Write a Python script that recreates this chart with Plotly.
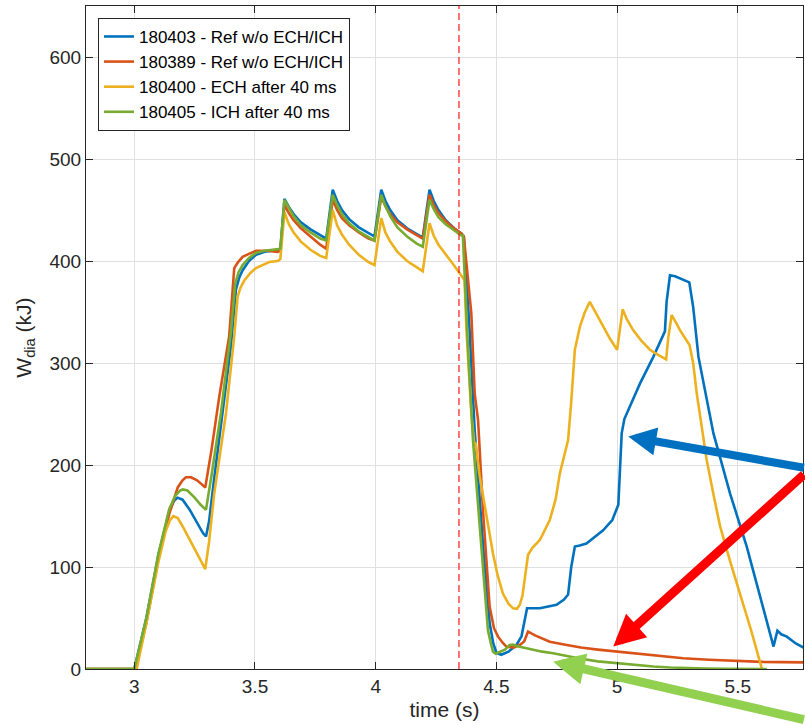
import plotly.graph_objects as go

# ---------------- data (time in s, W_dia in kJ) ----------------
t_180403 = [2.8, 3.0, 3.05, 3.10, 3.145, 3.165, 3.179, 3.20, 3.23, 3.26, 3.285, 3.297, 3.31, 3.33,
            3.366, 3.40, 3.421, 3.435, 3.449, 3.475, 3.504, 3.54, 3.573, 3.605, 3.622,
            3.64, 3.66, 3.69, 3.73, 3.77, 3.795, 3.822, 3.84, 3.86, 3.89, 3.93, 3.97, 3.995,
            4.023, 4.04, 4.06, 4.09, 4.13, 4.17, 4.195, 4.223, 4.24, 4.26, 4.29, 4.33, 4.355,
            4.365, 4.389, 4.41, 4.445, 4.472, 4.487, 4.5, 4.52, 4.55, 4.583, 4.604, 4.615, 4.627,
            4.68, 4.749, 4.78, 4.797, 4.81, 4.825, 4.845, 4.873, 4.942, 4.98, 5.005, 5.012, 5.019,
            5.03, 5.046, 5.095, 5.15, 5.198, 5.205, 5.219, 5.24, 5.299, 5.315, 5.337, 5.399, 5.468,
            5.537, 5.60, 5.648, 5.656, 5.664, 5.68, 5.703, 5.74, 5.772]
w_180403 = [0, 0, 50, 112, 155, 165, 168, 166, 156, 143, 133, 130, 145, 185,
            251, 316, 372, 384, 391, 400, 406, 409, 410, 411, 461,
            453, 446, 438, 431, 425, 422, 470, 459, 450, 441, 433, 427, 424,
            470, 459, 450, 440, 432, 426, 423, 470, 459, 450, 440, 431, 427,
            424, 332, 234, 120, 45, 25, 16, 14, 17, 23.5, 32, 45, 59.5,
            59.5, 63, 68, 73, 100, 120, 121, 123, 136, 146, 161, 195, 231,
            245, 254, 280, 306, 331, 360, 386, 385, 379, 355, 306, 231, 172,
            120, 65, 22, 30, 37.5, 34, 31.7, 25, 21]

t_180389 = [2.8, 3.005, 3.05, 3.10, 3.145, 3.165, 3.18, 3.20, 3.214, 3.235, 3.26, 3.28, 3.294,
            3.32, 3.352, 3.393, 3.414, 3.43, 3.449, 3.475, 3.504, 3.55, 3.594, 3.605, 3.622,
            3.64, 3.66, 3.69, 3.73, 3.77, 3.795, 3.822, 3.84, 3.86, 3.89, 3.93, 3.97, 3.995,
            4.023, 4.04, 4.06, 4.09, 4.13, 4.17, 4.195, 4.223, 4.24, 4.26, 4.29, 4.33, 4.355,
            4.365, 4.396, 4.41, 4.424, 4.445, 4.472, 4.49, 4.507, 4.525, 4.541, 4.57, 4.597,
            4.615, 4.631, 4.66, 4.69, 4.721, 4.78, 4.85, 4.92, 4.998, 5.1, 5.2, 5.274, 5.38,
            5.482, 5.6, 5.772]
w_180389 = [0, 0, 45, 108, 152, 168, 178, 185, 188, 188, 185, 181, 178,
            215, 267, 326, 393, 399, 404, 407, 410, 410, 409, 410, 455,
            447, 440, 432, 424, 416, 412, 460, 450, 442, 435, 428, 422, 420,
            463, 454, 446, 438, 431, 425, 422, 465, 455, 447, 439, 431, 427,
            424, 349, 270, 244, 153, 61, 40, 31.7, 26, 22, 21, 23.5,
            27, 36.6, 33, 30, 26.8, 24, 21, 19, 17, 14.5, 12, 10.5, 9,
            7.8, 7, 6.5]

t_180400 = [2.8, 3.01, 3.05, 3.10, 3.13, 3.148, 3.162, 3.18, 3.20, 3.23, 3.26, 3.28, 3.294,
            3.31, 3.33, 3.380, 3.414, 3.428, 3.44, 3.456, 3.48, 3.504, 3.53, 3.559, 3.594,
            3.605, 3.622, 3.64, 3.66, 3.69, 3.73, 3.77, 3.795, 3.822, 3.84, 3.86, 3.89, 3.93,
            3.97, 3.995, 4.023, 4.04, 4.06, 4.09, 4.13, 4.17, 4.195, 4.223, 4.24, 4.26, 4.29,
            4.32, 4.348, 4.368, 4.376, 4.396, 4.408, 4.414, 4.43, 4.445, 4.465, 4.486, 4.505,
            4.527, 4.55, 4.569, 4.585, 4.597, 4.608, 4.617, 4.631, 4.65, 4.68, 4.721, 4.745,
            4.763, 4.797, 4.81, 4.825, 4.846, 4.865, 4.887, 4.91, 4.942, 4.97, 5.0, 5.012, 5.023,
            5.04, 5.067, 5.10, 5.136, 5.17, 5.203, 5.212, 5.226, 5.245, 5.261, 5.3, 5.315, 5.33,
            5.35, 5.371, 5.40, 5.427, 5.47, 5.51, 5.555, 5.6]
w_180400 = [0, 0, 45, 105, 135, 146, 150, 148, 140, 127, 113, 104, 98,
            125, 170, 251, 326, 365, 374, 381, 388, 393, 396, 399, 400,
            402, 448, 436, 428, 419, 411, 405, 403, 450, 435, 426, 416, 406,
            399, 396, 442, 428, 419, 409, 400, 394, 390, 437, 425, 416, 406,
            397, 388, 381, 332, 251, 222, 221, 190, 169, 138, 113, 92,
            74, 64, 59.5, 59, 63, 72, 87, 112, 119, 126.5, 146, 166,
            192, 224.5, 262, 313, 335.6, 349, 360, 350, 335.6, 324, 313, 333, 352.6,
            343, 332, 322, 313, 308, 303.6, 325, 347, 339, 332, 317.6, 300, 270,
            237, 205, 170, 139.5, 104, 74, 38, 0]

t_180405 = [2.8, 3.0, 3.05, 3.10, 3.145, 3.17, 3.19, 3.2, 3.22, 3.25, 3.275, 3.297, 3.32,
            3.359, 3.40, 3.418, 3.432, 3.449, 3.475, 3.504, 3.54, 3.573, 3.605, 3.622,
            3.64, 3.66, 3.69, 3.73, 3.77, 3.795, 3.822, 3.84, 3.86, 3.89, 3.93, 3.97, 3.995,
            4.023, 4.04, 4.06, 4.09, 4.13, 4.17, 4.195, 4.223, 4.24, 4.26, 4.29, 4.33, 4.355,
            4.361, 4.382, 4.403, 4.438, 4.465, 4.478, 4.486, 4.497, 4.507, 4.52, 4.535, 4.555,
            4.569, 4.583, 4.62, 4.65, 4.69, 4.735, 4.79, 4.85, 4.92, 4.998, 5.07, 5.15, 5.22,
            5.288, 5.37, 5.45, 5.53, 5.62]
w_180405 = [0, 0, 50, 113, 157, 170, 175, 176, 175, 168, 161, 156, 190,
            251, 330, 378, 389, 396, 403, 408, 410, 411, 412, 460,
            452, 444, 435, 428, 422, 420, 465, 455, 446, 437, 429, 423, 420,
            465, 454, 444, 433, 424, 417, 414, 460, 451, 443, 436, 429, 425,
            425, 316, 224, 120, 38, 24, 17, 15, 16, 17, 19, 23.5,
            24, 22.5, 20.5, 19, 17, 15.4, 12.5, 10, 7.5, 5.6, 4, 2.5, 1.5,
            0.7, 0.4, 0.2, 0.1, 0]

series_names = ["180403 - Ref w/o ECH/ICH", "180389 - Ref w/o ECH/ICH",
                "180400 - ECH after 40 ms", "180405 - ICH after 40 ms"]
series_colors = ["#0072BD", "#D95319", "#EDB120", "#77AC30"]

x_ticks = [3, 3.5, 4, 4.5, 5, 5.5]
x_tick_labels = ["3", "3.5", "4", "4.5", "5", "5.5"]
y_ticks = [0, 100, 200, 300, 400, 500, 600]
x_range = [2.8, 5.77]
y_range = [0, 650]

event_time = 4.345  # red dashed marker

# annotation arrows: (tip_x, tip_y, tail_x, tail_y, colour, width)
arrows = [
    (5.046, 228, 5.78, 197, "#0070C0", 8),
    (4.984, 22, 5.78, 192, "#FF0000", 9),
    (4.735, 7, 5.78, -50, "#92D050", 9),
]

FONT = "Liberation Sans, Arial, Helvetica, sans-serif"

# ---------------- figure ----------------
fig = go.Figure()
for t, w, name, col in zip([t_180403, t_180389, t_180400, t_180405],
                           [w_180403, w_180389, w_180400, w_180405],
                           series_names, series_colors):
    fig.add_trace(go.Scatter(x=t, y=w, mode="lines", name=name,
                             line=dict(color=col, width=2.6)))

fig.add_shape(type="line", x0=event_time, x1=event_time, xref="x", y0=0, y1=1, yref="paper",
              line=dict(color="#FF0000", width=1.1, dash="7px,4px"))

for tx, ty, sx, sy, col, wd in arrows:
    fig.add_annotation(x=tx, y=ty, ax=sx, ay=sy, xref="x", yref="y", axref="x", ayref="y",
                       text="", showarrow=True, arrowhead=2, arrowsize=0.7,
                       arrowwidth=wd, arrowcolor=col)

tick_font = dict(family=FONT, size=19, color="#262626")
title_font = dict(family=FONT, size=21, color="#262626")
fig.update_xaxes(range=x_range, tickvals=x_ticks, ticktext=x_tick_labels,
                 showgrid=True, gridcolor="#e0e0e0", gridwidth=1,
                 showline=True, linecolor="#262626", linewidth=1, mirror="ticks",
                 ticks="inside", ticklen=7, tickcolor="#262626", tickfont=tick_font,
                 zeroline=False, automargin=False,
                 title=dict(text="time (s)", font=title_font, standoff=6))
fig.update_yaxes(range=y_range, tickvals=y_ticks,
                 showgrid=True, gridcolor="#e0e0e0", gridwidth=1,
                 showline=True, linecolor="#262626", linewidth=1, mirror="ticks",
                 ticks="inside", ticklen=7, tickcolor="#262626", tickfont=tick_font,
                 zeroline=False, automargin=False,
                 title=dict(text="W<sub>dia</sub> (kJ)", font=title_font, standoff=12))

fig.update_layout(
    width=805, height=725,
    margin=dict(l=86, r=2, t=6, b=56),
    paper_bgcolor="white", plot_bgcolor="white",
    showlegend=True,
    legend=dict(x=0.0167, y=0.982, xanchor="left", yanchor="top",
                bgcolor="white", bordercolor="#262626", borderwidth=1,
                font=dict(family=FONT, size=17, color="#000000"),
                tracegroupgap=0, itemwidth=30),
)

fig.write_html("out.html", config={"displayModeBar": False},
               post_script="document.body.style.margin='0';document.body.style.overflow='hidden';")
